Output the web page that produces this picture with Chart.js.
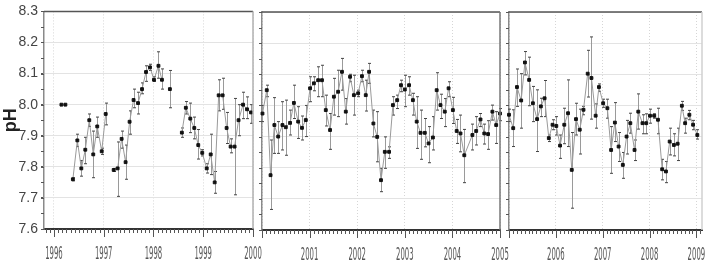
<!DOCTYPE html>
<html>
<head>
<meta charset="utf-8">
<script src="https://cdn.jsdelivr.net/npm/chart.js@4/dist/chart.umd.min.js"></script>
<style>
    body { margin: 0; background: #fff; }
    #wrap { position: relative; width: 712px; height: 267px; overflow: hidden; }
    .panel { position: absolute; top: 0; height: 267px; }
    #p1 { left: 0; width: 262px; }
    #p2 { left: 256px; width: 256px; }
    #p3 { left: 503px; width: 209px; }
</style>
</head>
<body>
<div id="wrap">
    <div class="panel" id="p1"><canvas id="chart1"></canvas></div>
    <div class="panel" id="p2"><canvas id="chart2"></canvas></div>
    <div class="panel" id="p3"><canvas id="chart3"></canvas></div>
</div>
<script>
// ========== 数据 ==========
// panel 1: 1996 - 2000
const P1_YEARS = [1996.15, 1996.23, 1996.38, 1996.47, 1996.55, 1996.63, 1996.71, 1996.79, 1996.87, 1996.96,
    1997.04, 1997.20, 1997.28, 1997.36, 1997.44, 1997.52, 1997.60, 1997.69, 1997.77, 1997.85, 1997.93,
    1998.01, 1998.10, 1998.17, 1998.33, 1998.57, 1998.65, 1998.74, 1998.82, 1998.90, 1998.98,
    1999.07, 1999.15, 1999.23, 1999.31, 1999.39, 1999.47, 1999.55, 1999.63, 1999.71, 1999.80, 1999.88, 1999.96];
const P1_PH = [8.00, 8.00, 7.76, 7.885, 7.795, 7.855, 7.95, 7.84, 7.93, 7.85,
    7.97, 7.79, 7.795, 7.89, 7.815, 7.945, 8.015, 8.005, 8.05, 8.105, 8.12,
    8.08, 8.125, 8.08, 8.05, 7.91, 7.99, 7.955, 7.925, 7.87, 7.845,
    7.795, 7.84, 7.75, 8.03, 8.03, 7.925, 7.865, 7.865, 7.95, 8.00, 7.985, 7.975];
const P1_LO = [8.00, 8.00, 7.755, 7.865, 7.77, 7.81, 7.93, 7.765, 7.895, 7.84,
    7.935, 7.785, 7.705, 7.86, 7.76, 7.905, 7.99, 7.97, 8.035, 8.075, 8.11,
    8.075, 8.085, 8.05, 7.99, 7.895, 7.97, 7.91, 7.89, 7.825, 7.835,
    7.78, 7.775, 7.715, 7.98, 7.985, 7.875, 7.845, 7.71, 7.90, 7.955, 7.955, 7.94];
const P1_HI = [8.00, 8.00, 7.765, 7.905, 7.82, 7.895, 7.97, 7.915, 7.96, 7.86,
    8.005, 7.795, 7.88, 7.915, 7.87, 7.98, 8.05, 8.04, 8.07, 8.125, 8.13,
    8.09, 8.17, 8.115, 8.11, 7.925, 8.01, 8.005, 7.96, 7.92, 7.855,
    7.81, 7.905, 7.785, 8.08, 8.085, 7.975, 7.89, 8.02, 8.00, 8.04, 8.025, 8.00];
const P1_BREAKS = [1996.23, 1997.04, 1998.17, 1998.33];

// panel 2: 2000 - 2005
const P2_YEARS = [2000.01, 2000.10, 2000.18, 2000.26, 2000.34, 2000.43, 2000.50, 2000.59, 2000.67, 2000.76, 2000.84, 2000.92,
    2001.01, 2001.09, 2001.18, 2001.26, 2001.34, 2001.43, 2001.51, 2001.60, 2001.68, 2001.76, 2001.85, 2001.93,
    2002.02, 2002.10, 2002.18, 2002.25, 2002.34, 2002.42, 2002.50, 2002.58, 2002.67, 2002.75, 2002.84, 2002.92,
    2003.00, 2003.09, 2003.17, 2003.25, 2003.33, 2003.42, 2003.50, 2003.59, 2003.67, 2003.75, 2003.84, 2003.92,
    2004.01, 2004.09, 2004.17, 2004.25, 2004.42, 2004.50, 2004.59, 2004.67, 2004.75, 2004.84, 2004.92, 2005.00];
const P2_PH = [7.974, 8.049, 7.776, 7.937, 7.90, 7.937, 7.93, 7.944, 8.008, 7.948, 7.928, 7.953,
    8.055, 8.071, 8.081, 8.081, 7.985, 7.921, 8.028, 8.044, 8.108, 7.98, 8.092, 8.033,
    8.039, 8.094, 8.033, 8.108, 7.942, 7.899, 7.76, 7.851, 7.851, 8.001, 8.017, 8.065,
    8.051, 8.065, 8.017, 7.948, 7.912, 7.912, 7.878, 7.897, 8.049, 8.001, 7.98, 8.055,
    7.985, 7.918, 7.91, 7.84, 7.905, 7.918, 7.955, 7.91, 7.908, 7.98, 7.937, 7.974];
const P2_LO = [7.948, 8.028, 7.666, 7.846, 7.846, 7.857, 7.84, 7.905, 7.958, 7.894, 7.889, 7.90,
    8.012, 8.047, 8.028, 8.028, 7.934, 7.859, 7.969, 7.964, 8.049, 7.94, 8.076, 7.969,
    8.028, 8.076, 7.982, 8.071, 7.899, 7.819, 7.723, 7.798, 7.83, 7.969, 7.99, 8.044,
    7.996, 8.033, 7.969, 7.862, 7.827, 7.867, 7.816, 7.857, 7.985, 7.958, 7.932, 8.028,
    7.942, 7.878, 7.851, 7.752, 7.857, 7.873, 7.932, 7.876, 7.859, 7.953, 7.878, 7.951];
const P2_HI = [8.00, 8.065, 7.889, 8.025, 7.948, 8.012, 8.017, 7.985, 8.065, 7.996, 7.966, 8.00,
    8.092, 8.092, 8.124, 8.129, 8.033, 7.974, 8.087, 8.113, 8.151, 8.022, 8.10, 8.097,
    8.049, 8.113, 8.081, 8.135, 7.985, 7.98, 7.798, 7.899, 7.867, 8.028, 8.033, 8.081,
    8.097, 8.092, 8.039, 8.028, 7.985, 7.958, 7.932, 7.964, 8.105, 8.036, 8.022, 8.076,
    8.026, 7.955, 7.969, 7.923, 7.94, 7.964, 7.974, 7.94, 7.951, 8.001, 7.98, 7.99];

// panel 3: 2005 - 2009
const P3_YEARS = [2005.00, 2005.09, 2005.17, 2005.26, 2005.34, 2005.43, 2005.51, 2005.60, 2005.68, 2005.76, 2005.85, 2005.93,
    2006.01, 2006.09, 2006.18, 2006.26, 2006.34, 2006.43, 2006.51, 2006.59, 2006.68, 2006.76, 2006.85, 2006.92,
    2007.01, 2007.10, 2007.18, 2007.26, 2007.34, 2007.43, 2007.51, 2007.59, 2007.68, 2007.76, 2007.85, 2007.93,
    2008.01, 2008.10, 2008.18, 2008.27, 2008.35, 2008.43, 2008.52, 2008.60, 2008.69, 2008.76, 2008.85, 2008.93, 2009.02];
const P3_PH = [7.970, 7.927, 8.059, 8.016, 8.138, 8.082, 8.007, 7.956, 7.997, 8.023, 7.895, 7.938,
    7.934, 7.871, 7.938, 7.975, 7.793, 7.956, 7.922, 7.986, 8.102, 8.088, 7.967, 8.059,
    8.007, 7.991, 7.857, 7.945, 7.868, 7.809, 7.90, 7.943, 7.857, 7.98, 7.943, 7.943,
    7.967, 7.967, 7.954, 7.795, 7.788, 7.884, 7.873, 7.877, 7.999, 7.943, 7.97, 7.938, 7.905];
const P3_LO = [7.948, 7.868, 7.997, 7.927, 8.098, 7.999, 7.948, 7.852, 7.964, 7.964, 7.884, 7.922,
    7.905, 7.83, 7.877, 7.868, 7.67, 7.905, 7.844, 7.97, 8.027, 7.956, 7.927, 8.045,
    7.994, 7.959, 7.782, 7.884, 7.82, 7.766, 7.844, 7.911, 7.823, 7.924, 7.909, 7.909,
    7.943, 7.959, 7.909, 7.761, 7.752, 7.841, 7.838, 7.823, 7.984, 7.911, 7.954, 7.922, 7.892];
const P3_HI = [7.988, 7.986, 8.117, 8.102, 8.173, 8.155, 8.061, 8.05, 8.023, 8.08, 7.905, 7.954,
    7.964, 7.905, 7.991, 8.082, 7.913, 8.007, 7.988, 7.997, 8.177, 8.22, 8.005, 8.069,
    8.02, 8.02, 7.932, 8.009, 7.913, 7.849, 7.952, 7.975, 7.889, 8.037, 7.97, 7.973,
    7.988, 7.973, 7.991, 7.827, 7.82, 7.927, 7.909, 7.927, 8.013, 7.959, 7.984, 7.952, 7.922];

const Y_MIN = 7.6;
const Y_MAX = 8.3;
const Y_TICKS = ['7.6', '7.7', '7.8', '7.9', '8.0', '8.1', '8.2', '8.3'];

const COLORS = {
    line: '#9a9a9a',
    point: '#111111',
    errBar: '#9a9a9a',
    errCap: '#444444',
    grid: '#e3e3e3',
    yearGrid: '#d6d6d6',
    axis: '#333333',
    text: '#444444',
    yearText: '#555555'
};

// ========== 图表模块 ==========

// 误差线 + 次刻度 + 边框
const panelExtras = {
    id: 'panelExtras',
    beforeDatasetsDraw(chart) {
        const ctx = chart.ctx;
        const x = chart.scales.x;
        const y = chart.scales.y;
        const err = chart.options.plugins.panelExtras;
        ctx.save();
        ctx.lineWidth = 1;
        err.years.forEach((yr, i) => {
            if (err.lo[i] === err.hi[i]) return;
            const px = Math.round(x.getPixelForValue(yr)) + 0.5;
            const pLo = y.getPixelForValue(err.lo[i]);
            const pHi = y.getPixelForValue(err.hi[i]);
            ctx.strokeStyle = COLORS.errBar;
            ctx.beginPath();
            ctx.moveTo(px, pLo);
            ctx.lineTo(px, pHi);
            ctx.stroke();
            ctx.strokeStyle = COLORS.errCap;
            ctx.beginPath();
            ctx.moveTo(px - 1.5, pLo);
            ctx.lineTo(px + 1.5, pLo);
            ctx.moveTo(px - 1.5, pHi);
            ctx.lineTo(px + 1.5, pHi);
            ctx.stroke();
        });
        ctx.restore();
    },
    afterDraw(chart) {
        const ctx = chart.ctx;
        const x = chart.scales.x;
        const y = chart.scales.y;
        const area = chart.chartArea;
        const opts = chart.options.plugins.panelExtras;
        ctx.save();

        // 顶部和右侧边框
        ctx.strokeStyle = '#555';
        ctx.lineWidth = 1.5;
        ctx.beginPath();
        ctx.moveTo(area.left, area.top);
        ctx.lineTo(area.right, area.top);
        ctx.stroke();
        ctx.strokeStyle = opts.rightColor;
        ctx.beginPath();
        ctx.moveTo(area.right, area.top);
        ctx.lineTo(area.right, area.bottom);
        ctx.stroke();

        // x 轴月刻度
        ctx.strokeStyle = '#555';
        ctx.lineWidth = 1;
        const start = Math.ceil(x.min * 12 - 1e-6);
        const end = Math.floor(x.max * 12 + 1e-6);
        for (let m = start; m <= end; m++) {
            const px = Math.round(x.getPixelForValue(m / 12)) + 0.5;
            const len = m % 12 === 0 ? 8 : 4;
            ctx.beginPath();
            ctx.moveTo(px, area.bottom);
            ctx.lineTo(px, area.bottom + len);
            ctx.stroke();
        }

        // y 轴次刻度
        for (let v = Y_MIN; v <= Y_MAX + 1e-6; v += 0.05) {
            const py = Math.round(y.getPixelForValue(v)) + 0.5;
            ctx.beginPath();
            ctx.moveTo(area.left - 3, py);
            ctx.lineTo(area.left, py);
            ctx.stroke();
        }

        // 年份标签（窄字体）
        ctx.fillStyle = COLORS.yearText;
        ctx.font = '17px "Liberation Sans Narrow", "DejaVu Sans Condensed", sans-serif';
        ctx.textAlign = 'center';
        ctx.textBaseline = 'middle';
        const sx = 0.45;
        opts.labels.forEach(yr => {
            const px = x.getPixelForValue(yr);
            ctx.save();
            ctx.translate(px, area.bottom + 26);
            ctx.scale(sx, 1);
            ctx.fillText(String(yr), 0, 0);
            ctx.restore();
        });
        ctx.restore();
    }
};

function makeChart(id, cfg) {
    const ctx = document.getElementById(id);
    const data = cfg.years.map((yr, i) => ({ x: yr, y: cfg.ph[i] }));
    const breaks = cfg.breaks || [];
    const isFirst = cfg.showY;

    return new Chart(ctx, {
        type: 'line',
        data: {
            datasets: [{
                label: 'pH',
                data: data,
                borderColor: COLORS.line,
                borderWidth: 1,
                pointStyle: 'rect',
                pointRadius: 2,
                pointBorderWidth: 1,
                pointBackgroundColor: COLORS.point,
                pointBorderColor: COLORS.point,
                tension: 0,
                clip: false,
                segment: {
                    borderColor: c => breaks.some(b => Math.abs(c.p0.parsed.x - b) < 1e-6) ? 'transparent' : COLORS.line
                }
            }]
        },
        options: {
            responsive: false,
            animation: false,
            events: [],
            layout: {
                padding: { top: cfg.top, right: cfg.right, left: 0, bottom: 0 }
            },
            plugins: {
                legend: { display: false },
                tooltip: { enabled: false },
                panelExtras: {
                    years: cfg.years,
                    lo: cfg.lo,
                    hi: cfg.hi,
                    labels: cfg.labels,
                    rightColor: cfg.rightColor
                }
            },
            scales: {
                x: {
                    type: 'linear',
                    min: cfg.min,
                    max: cfg.max,
                    afterBuildTicks: s => {
                        const t = [];
                        for (let yr = Math.ceil(cfg.min); yr <= Math.floor(cfg.max); yr++) t.push({ value: yr });
                        s.ticks = t;
                    },
                    afterFit: s => { s.height = cfg.xHeight; },
                    ticks: { display: false },
                    grid: {
                        color: COLORS.yearGrid,
                        drawTicks: false
                    },
                    border: { color: COLORS.axis, width: 2, dash: [1, 2] }
                },
                y: {
                    min: Y_MIN,
                    max: Y_MAX,
                    afterBuildTicks: s => {
                        s.ticks = Y_TICKS.map(v => ({ value: parseFloat(v) }));
                    },
                    afterFit: s => { s.width = cfg.yWidth; },
                    ticks: {
                        display: isFirst,
                        padding: 3,
                        color: COLORS.text,
                        font: { family: '"Liberation Sans Narrow", "Liberation Sans", sans-serif', size: 14 },
                        callback: (v, i) => Y_TICKS[i]
                    },
                    grid: {
                        color: COLORS.grid,
                        drawTicks: isFirst,
                        tickLength: 3,
                        tickColor: '#555'
                    },
                    border: { color: '#8a8a8a', width: 1.5 },
                    title: {
                        display: isFirst,
                        text: 'pH',
                        color: '#222',
                        padding: { top: 0, bottom: 2 },
                        font: { family: '"Liberation Sans", Arial, sans-serif', size: 18, weight: 'bold' }
                    }
                }
            }
        },
        plugins: [panelExtras]
    });
}

function sizeCanvas(id, w, h) {
    const c = document.getElementById(id);
    c.width = w;
    c.height = h;
    c.style.width = w + 'px';
    c.style.height = h + 'px';
}

sizeCanvas('chart1', 262, 267);
sizeCanvas('chart2', 256, 267);
sizeCanvas('chart3', 209, 267);

makeChart('chart1', {
    years: P1_YEARS, ph: P1_PH, lo: P1_LO, hi: P1_HI, breaks: P1_BREAKS,
    min: 1995.8, max: 2000, labels: [1996, 1997, 1998, 1999, 2000],
    showY: true, yWidth: 44, xHeight: 38, top: 10, right: 9, rightColor: '#b0b0b0'
});
makeChart('chart2', {
    years: P2_YEARS, ph: P2_PH, lo: P2_LO, hi: P2_HI,
    min: 2000, max: 2005, labels: [2001, 2002, 2003, 2004, 2005],
    showY: false, yWidth: 6, xHeight: 37, top: 12, right: 12, rightColor: '#777'
});
makeChart('chart3', {
    years: P3_YEARS, ph: P3_PH, lo: P3_LO, hi: P3_HI,
    min: 2005, max: 2009.12, labels: [2006, 2007, 2008, 2009],
    showY: false, yWidth: 6, xHeight: 37, top: 12, right: 10, rightColor: '#d0d0d0'
});
</script>
</body>
</html>
